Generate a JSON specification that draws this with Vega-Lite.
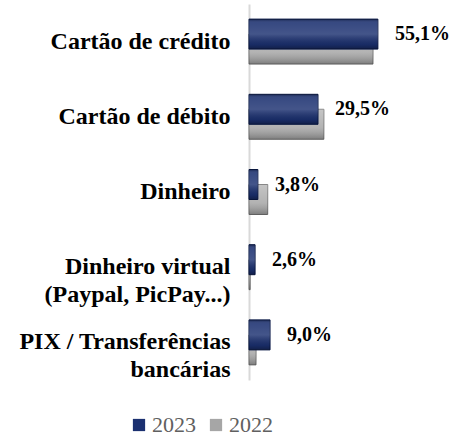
{
  "$schema": "https://vega.github.io/schema/vega-lite/v6.json",
  "width": 211,
  "height": 376,
  "autosize": {"type": "none"},
  "padding": {"left": 249, "top": 4, "right": 0, "bottom": 57},
  "background": "white",
  "config": {
    "locale": {"number": {"decimal": ",", "thousands": ".", "grouping": [3], "currency": ["R$", ""]}},
    "view": {"stroke": null}
  },
  "data": {
    "values": [
      {"cat": "Cartão de crédito", "year": "2023", "value": 0.551},
      {"cat": "Cartão de débito", "year": "2023", "value": 0.295},
      {"cat": "Dinheiro", "year": "2023", "value": 0.038},
      {"cat": "Dinheiro virtual|(Paypal, PicPay...)", "year": "2023", "value": 0.026},
      {"cat": "PIX / Transferências|bancárias", "year": "2023", "value": 0.090},
      {"cat": "Cartão de crédito", "year": "2022", "value": 0.53},
      {"cat": "Cartão de débito", "year": "2022", "value": 0.32},
      {"cat": "Dinheiro", "year": "2022", "value": 0.08},
      {"cat": "Dinheiro virtual|(Paypal, PicPay...)", "year": "2022", "value": 0.005},
      {"cat": "PIX / Transferências|bancárias", "year": "2022", "value": 0.03}
    ]
  },
  "encoding": {
    "y": {
      "field": "cat",
      "type": "nominal",
      "sort": null,
      "scale": {"paddingInner": 0, "paddingOuter": 0},
      "axis": {
        "title": null,
        "ticks": false,
        "domainColor": "#d9d9d9",
        "domainWidth": 2,
        "labelFont": "Liberation Serif",
        "labelFontSize": 24,
        "labelFontWeight": "bold",
        "labelColor": "black",
        "labelPadding": 19,
        "labelLimit": 300,
        "labelLineHeight": 28,
        "labelExpr": "split(datum.value, '|')"
      }
    }
  },
  "layer": [
    {
      "transform": [{"filter": "datum.year == '2022'"}],
      "mark": {"type": "bar", "height": 30, "yOffset": 7.5, "stroke": "#6e6e6e", "strokeWidth": 1},
      "encoding": {
        "x": {"field": "value", "type": "quantitative", "scale": {"domain": [0, 0.902], "nice": false}, "axis": null},
        "color": {
          "field": "year", "type": "nominal",
          "scale": {"domain": ["2023", "2022"], "range": ["#1b3070", "#a6a6a6"]},
          "legend": {
            "title": null, "orient": "none", "legendX": -121, "legendY": 410, "direction": "horizontal",
            "labelFont": "Liberation Serif", "labelFontSize": 22, "labelColor": "#606060",
            "symbolType": "square", "symbolSize": 150, "symbolStrokeWidth": 0, "columnPadding": 9, "labelOffset": 2
          }
        }
      }
    },
    {
      "transform": [{"filter": "datum.year == '2022'"}],
      "mark": {"type": "bar", "height": 30, "yOffset": 7.5, "strokeWidth": 0,
        "fill": {"gradient": "linear", "x1": 0, "y1": 0, "x2": 0, "y2": 1, "stops": [
          {"offset": 0, "color": "rgba(255,255,255,0.35)"},
          {"offset": 0.6, "color": "rgba(255,255,255,0.15)"},
          {"offset": 1, "color": "rgba(0,0,0,0.25)"}]}},
      "encoding": {"x": {"field": "value", "type": "quantitative"}}
    },
    {
      "transform": [{"filter": "datum.year == '2023'"}],
      "mark": {"type": "bar", "height": 30, "yOffset": -7.5, "stroke": "#0b1a48", "strokeWidth": 1},
      "encoding": {
        "x": {"field": "value", "type": "quantitative"},
        "color": {"field": "year", "type": "nominal"}
      }
    },
    {
      "transform": [{"filter": "datum.year == '2023'"}],
      "mark": {"type": "bar", "height": 30, "yOffset": -7.5, "strokeWidth": 0,
        "fill": {"gradient": "linear", "x1": 0, "y1": 0, "x2": 0, "y2": 1, "stops": [
          {"offset": 0, "color": "rgba(0,0,0,0.3)"},
          {"offset": 0.12, "color": "rgba(255,255,255,0.12)"},
          {"offset": 0.5, "color": "rgba(255,255,255,0.18)"},
          {"offset": 0.85, "color": "rgba(0,0,0,0.1)"},
          {"offset": 1, "color": "rgba(0,0,0,0.35)"}]}},
      "encoding": {"x": {"field": "value", "type": "quantitative"}}
    },
    {
      "transform": [{"filter": "datum.year == '2023'"}],
      "mark": {"type": "text", "align": "left", "baseline": "middle", "dx": 17, "yOffset": -7.5, "font": "Liberation Serif", "fontSize": 20, "fontWeight": "bold", "color": "black"},
      "encoding": {
        "x": {"field": "value", "type": "quantitative"},
        "text": {"field": "value", "type": "quantitative", "format": ".1%"}
      }
    }
  ]
}
